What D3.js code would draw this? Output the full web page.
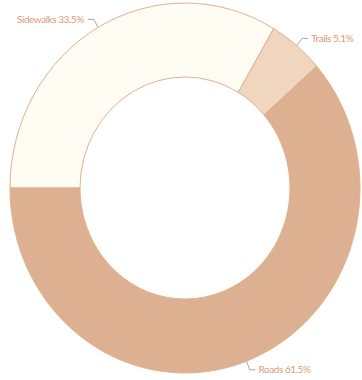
<!DOCTYPE html>
<html>
<head>
<meta charset="utf-8">
<script src="https://cdn.jsdelivr.net/npm/d3@7"></script>
<style>
  html, body { margin: 0; padding: 0; background: #ffffff; }
  svg { display: block; }
  .lbl { font-family: Lato, "Open Sans", sans-serif; font-size: 10px; letter-spacing: -0.45px; fill: #d89c77; }
</style>
</head>
<body>
<svg id="chart" width="362" height="380"></svg>
<script>
// Share of network by facility type
const categories = ["Sidewalks", "Trails", "Roads"];
const shares = [33.5, 5.1, 61.5];
const fills = ["#fffcf4", "#f1d6bf", "#dcb091"];

const W = 362, H = 380;
const cx = 185, cy = 188;
const outerR = 175, innerR = 105;
const yStretch = 1.057;

const svg = d3.select("#chart");

const pie = d3.pie()
  .sort(null)
  .value(d => d.value)
  .startAngle(-Math.PI / 2)
  .endAngle(1.5 * Math.PI);

const data = categories.map((c, i) => ({ name: c, value: shares[i], fill: fills[i] }));
const arcs = pie(data);

const arc = d3.arc().innerRadius(innerR).outerRadius(outerR);

const ring = svg.append("g")
  .attr("transform", `translate(${cx},${cy}) scale(1,${yStretch})`);

ring.selectAll("path")
  .data(arcs)
  .join("path")
  .attr("d", arc)
  .attr("fill", d => d.data.fill)
  .attr("stroke", "#e2b08c")
  .attr("stroke-width", 1)
  .attr("vector-effect", "non-scaling-stroke");

// Leader lines and labels
const toScreen = (a, r) => [cx + r * Math.sin(a), cy - r * Math.cos(a) * yStretch];

const labels = svg.append("g");
arcs.forEach(d => {
  const mid = (d.startAngle + d.endAngle) / 2;
  const p0 = toScreen(mid, outerR);
  const p1 = toScreen(mid, outerR * 1.05);
  const right = Math.sin(mid) >= 0;
  const p2 = [p1[0] + (right ? 6 : -6), p1[1]];
  labels.append("polyline")
    .attr("points", [p0, p1, p2].map(p => p.join(",")).join(" "))
    .attr("fill", "none")
    .attr("stroke", "#a9a9a9")
    .attr("stroke-width", 1);
  labels.append("text")
    .attr("class", "lbl")
    .attr("x", p2[0] + (right ? 3 : -4))
    .attr("y", p2[1])
    .attr("dy", "0.35em")
    .attr("text-anchor", right ? "start" : "end")
    .text(`${d.data.name} ${d.data.value}%`);
});
</script>
</body>
</html>
